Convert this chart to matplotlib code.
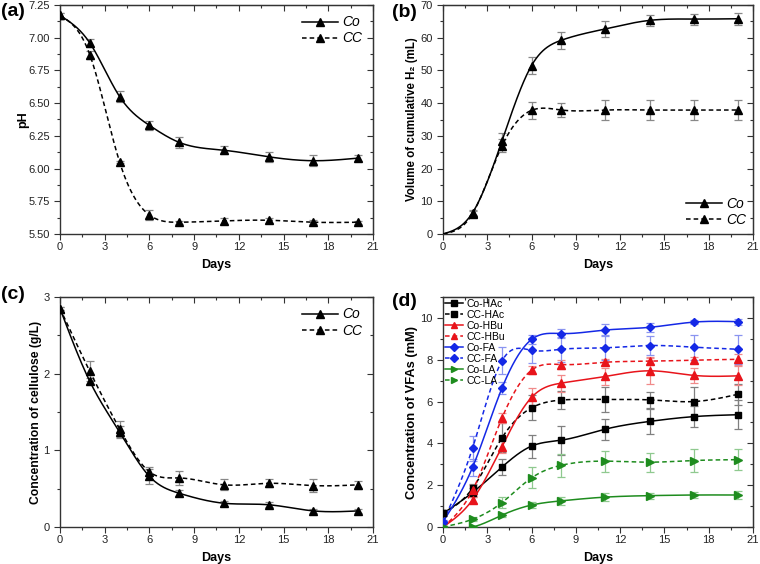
import numpy as np
import matplotlib
matplotlib.use("Agg")
import matplotlib.pyplot as plt
from matplotlib.ticker import MultipleLocator

plt.rcParams['font.family'] = ['Liberation Sans', 'DejaVu Sans']

days = [0, 2, 4, 6, 8, 11, 14, 17, 20]

# (a) pH
ph_co = [7.17, 6.96, 6.55, 6.33, 6.20, 6.14, 6.09, 6.06, 6.08]
ph_co_err = [0.02, 0.03, 0.045, 0.035, 0.04, 0.03, 0.04, 0.04, 0.02]
ph_cc = [7.17, 6.87, 6.05, 5.645, 5.59, 5.60, 5.605, 5.59, 5.59]
ph_cc_err = [0.02, 0.03, 0.01, 0.04, 0.01, 0.02, 0.02, 0.015, 0.01]

# (b) cumulative H2
h2_co = [0, 6.5, 28.5, 51.5, 59.2, 62.7, 65.3, 65.7, 65.8]
h2_co_err = [0, 0.8, 2.5, 2.5, 2.5, 2.5, 1.6, 1.7, 1.9]
h2_cc = [0, 6.2, 27.0, 37.8, 37.9, 37.9, 37.9, 37.9, 37.9]
h2_cc_err = [0, 0.8, 2.0, 2.5, 2.0, 3.0, 3.0, 3.0, 3.0]

# (c) cellulose
cel_co = [2.85, 1.90, 1.24, 0.66, 0.44, 0.31, 0.29, 0.21, 0.21]
cel_co_err = [0.02, 0.04, 0.08, 0.1, 0.04, 0.03, 0.03, 0.03, 0.03]
cel_cc = [2.85, 2.03, 1.28, 0.72, 0.64, 0.55, 0.57, 0.54, 0.55]
cel_cc_err = [0.02, 0.13, 0.1, 0.06, 0.09, 0.07, 0.05, 0.08, 0.05]

# (d) VFAs
vfa_labels = ['Co-HAc', 'CC-HAc', 'Co-HBu', 'CC-HBu', 'Co-FA', 'CC-FA', 'Co-LA', 'CC-LA']
co_hac = [0.65, 1.65, 2.87, 3.87, 4.15, 4.68, 5.05, 5.28, 5.37]
cc_hac = [0.65, 1.85, 4.27, 5.70, 6.07, 6.10, 6.08, 6.00, 6.35]
co_hbu = [0.0, 1.30, 3.85, 6.20, 6.88, 7.20, 7.47, 7.25, 7.23]
cc_hbu = [0.0, 1.75, 5.22, 7.50, 7.77, 7.88, 7.93, 7.98, 8.02]
co_fa = [0.25, 2.85, 6.65, 8.97, 9.25, 9.42, 9.55, 9.80, 9.82]
cc_fa = [0.25, 3.77, 7.95, 8.45, 8.50, 8.57, 8.68, 8.60, 8.50]
co_la = [0.0, 0.0, 0.57, 1.05, 1.25, 1.43, 1.50, 1.53, 1.53]
cc_la = [0.0, 0.37, 1.17, 2.35, 2.95, 3.15, 3.10, 3.18, 3.22]
co_hac_err = [0.1, 0.2, 0.4, 0.55, 0.7, 0.5, 0.6, 0.5, 0.7]
cc_hac_err = [0.1, 0.2, 0.7, 0.6, 0.45, 0.6, 0.4, 0.7, 0.5]
co_hbu_err = [0.0, 0.15, 0.3, 0.45, 0.4, 0.4, 0.65, 0.35, 0.45]
cc_hbu_err = [0.0, 0.25, 0.25, 0.2, 0.2, 0.15, 0.15, 0.15, 0.25]
co_fa_err = [0.1, 0.4, 0.3, 0.2, 0.2, 0.3, 0.2, 0.1, 0.15]
cc_fa_err = [0.1, 0.6, 0.65, 0.6, 0.6, 0.6, 0.45, 0.6, 0.7]
co_la_err = [0.0, 0.05, 0.1, 0.15, 0.2, 0.2, 0.15, 0.15, 0.2]
cc_la_err = [0.0, 0.1, 0.25, 0.5, 0.55, 0.5, 0.45, 0.55, 0.5]


def spline(x, y, n=400):
    x = np.asarray(x, float)
    y = np.asarray(y, float)
    k = len(x)
    h = np.diff(x)
    A = np.zeros((k, k))
    b = np.zeros(k)
    A[0, 0] = 1
    A[-1, -1] = 1
    for i in range(1, k - 1):
        A[i, i - 1] = h[i - 1]
        A[i, i] = 2 * (h[i - 1] + h[i])
        A[i, i + 1] = h[i]
        b[i] = 6 * ((y[i + 1] - y[i]) / h[i] - (y[i] - y[i - 1]) / h[i - 1])
    M = np.linalg.solve(A, b)
    xs = np.linspace(x[0], x[-1], n)
    idx = np.clip(np.searchsorted(x, xs) - 1, 0, k - 2)
    x0, x1 = x[idx], x[idx + 1]
    hh = x1 - x0
    t0 = x1 - xs
    t1 = xs - x0
    ys = (M[idx] * t0 ** 3 / (6 * hh) + M[idx + 1] * t1 ** 3 / (6 * hh)
          + (y[idx] / hh - M[idx] * hh / 6) * t0
          + (y[idx + 1] / hh - M[idx + 1] * hh / 6) * t1)
    return xs, ys


fig = plt.figure(figsize=(7.6, 5.64), dpi=100)
W, H = 760, 564


def make_ax(l, t, r, b):
    return fig.add_axes([l / W, 1 - b / H, (r - l) / W, (b - t) / H])


axa = make_ax(60, 5, 373, 234)
axb = make_ax(443, 5, 753, 234)
axc = make_ax(60, 297, 373, 527)
axd = make_ax(443, 297, 753, 527)

spine_c = '#333333'
tick_c = '#333333'


def style(ax, ylim, ymaj, ymin, yfmt, ylabel, panel, ylx, ppos, ylsize):
    ax.set_xlim(0, 21)
    ax.set_ylim(*ylim)
    ax.xaxis.set_major_locator(MultipleLocator(3))
    ax.xaxis.set_minor_locator(MultipleLocator(1.5))
    ax.yaxis.set_major_locator(MultipleLocator(ymaj))
    ax.yaxis.set_minor_locator(MultipleLocator(ymin))
    ax.yaxis.set_major_formatter(yfmt)
    for s in ax.spines.values():
        s.set_color(spine_c)
        s.set_linewidth(1.0)
    ax.tick_params(which='both', direction='out', colors=tick_c, labelsize=8,
                   labelcolor='#222222', width=0.8)
    ax.tick_params(which='major', length=4)
    ax.tick_params(which='minor', length=2.5)
    ax.tick_params(axis='x', pad=2)
    for side, loc in (('right', 'y'), ('top', 'x')):
        if loc == 'y':
            sa = ax.secondary_yaxis('right')
            sa.yaxis.set_major_locator(MultipleLocator(ymaj))
            sa.yaxis.set_minor_locator(MultipleLocator(ymin))
        else:
            sa = ax.secondary_xaxis('top')
            sa.xaxis.set_major_locator(MultipleLocator(3))
            sa.xaxis.set_minor_locator(MultipleLocator(1.5))
        sa.tick_params(which='both', direction='in', colors=tick_c, width=0.8,
                       labelright=False, labeltop=False)
        sa.tick_params(which='major', length=4)
        sa.tick_params(which='minor', length=2.5)
        sa.spines[side].set_color(spine_c)
    ax.set_xlabel('Days', fontsize=9, fontweight='bold')
    ax.xaxis.set_label_coords(0.5, -0.11)
    ax.set_ylabel(ylabel, fontsize=ylsize, fontweight='bold')
    ax.yaxis.set_label_coords(ylx, 0.5)
    fig.text(ppos[0] / W, 1 - ppos[1] / H, panel, fontsize=14,
             fontweight='bold', va='top', ha='left')


def pair(ax, yco, eco, ycc, ecc, first_marker=True):
    ax.errorbar(days, yco, yerr=eco, fmt='none', ecolor='#888888',
                elinewidth=0.9, capsize=3, capthick=0.9, zorder=2)
    ax.errorbar(days, ycc, yerr=ecc, fmt='none', ecolor='#888888',
                elinewidth=0.9, capsize=3, capthick=0.9, zorder=2)
    xs, ys = spline(days, yco)
    ax.plot(xs, ys, color='black', lw=1.1, ls='-', zorder=3)
    xs, ys = spline(days, ycc)
    ax.plot(xs, ys, color='black', lw=1.1, ls=(0, (3, 2)), zorder=3)
    s = 0 if first_marker else 1
    ax.plot(days[s:], yco[s:], ls='none', marker='^', ms=5.5, color='black', zorder=4)
    ax.plot(days[s:], ycc[s:], ls='none', marker='^', ms=5.5, color='black', zorder=4)
    h1, = ax.plot([], [], color='black', lw=1.1, ls='-', marker='^', ms=5.5)
    h2, = ax.plot([], [], color='black', lw=1.1, ls=(0, (3, 2)), marker='^', ms=5.5)
    return [h1, h2]


leg_kw = dict(frameon=False, prop={'style': 'italic', 'size': 10},
              handlelength=2.6, labelspacing=0.15, handletextpad=0.3)

# (a)
hs = pair(axa, ph_co, ph_co_err, ph_cc, ph_cc_err)
style(axa, (5.5, 7.25), 0.25, 0.125, '{x:.2f}', 'pH', '(a)', -0.10, (1, 3), 9)
axa.legend(hs, ['Co', 'CC'], loc='upper right', borderaxespad=0.35, **leg_kw)

# (b)
hs = pair(axb, h2_co, h2_co_err, h2_cc, h2_cc_err, first_marker=False)
style(axb, (0, 70), 10, 5, '{x:.0f}', 'Volume of cumulative H\u2082 (mL)', '(b)',
      -0.08, (392, 4), 8.3)
axb.legend(hs, ['Co', 'CC'], loc='lower right', borderaxespad=0.1, **leg_kw)

# (c)
hs = pair(axc, cel_co, cel_co_err, cel_cc, cel_cc_err)
style(axc, (0, 3), 1, 0.5, '{x:.0f}', 'Concentration of cellulose (g/L)', '(c)',
      -0.058, (1, 286), 8.7)
axc.legend(hs, ['Co', 'CC'], loc='upper right', borderaxespad=0.35, **leg_kw)

# (d)
series = [co_hac, cc_hac, co_hbu, cc_hbu, co_fa, cc_fa, co_la, cc_la]
errs = [co_hac_err, cc_hac_err, co_hbu_err, cc_hbu_err, co_fa_err, cc_fa_err,
        co_la_err, cc_la_err]
colors = ['black', 'black', '#e8141b', '#e8141b', '#1428e6', '#1428e6',
          '#1e8c1e', '#1e8c1e']
ecolors = ['#808080', '#808080', '#f08a8a', '#f08a8a', '#8a94f0', '#8a94f0',
           '#8fc98f', '#8fc98f']
markers = ['s', 's', '^', '^', 'D', 'D', '>', '>']
msizes = [5, 5, 5.5, 5.5, 4.5, 4.5, 5.5, 5.5]
handles = []
for i, (yv, ev) in enumerate(zip(series, errs)):
    ls = '-' if i % 2 == 0 else (0, (3, 2))
    axd.errorbar(days, yv, yerr=ev, fmt='none', ecolor=ecolors[i],
                 elinewidth=0.9, capsize=3, capthick=0.9, zorder=2)
    xs, ys = spline(days, yv)
    axd.plot(xs, ys, color=colors[i], lw=1.1, ls=ls, zorder=3)
    axd.plot(days, yv, ls='none', marker=markers[i], ms=msizes[i],
             color=colors[i], zorder=4, clip_on=True)
    h, = axd.plot([], [], color=colors[i], lw=1.1, ls=ls, marker=markers[i],
                  ms=msizes[i] - 0.5)
    handles.append(h)
style(axd, (0, 11), 2, 1, '{x:.0f}', 'Concentration of VFAs (mM)', '(d)',
      -0.08, (392, 293), 9.3)
axd.legend(handles, vfa_labels, loc='upper left', frameon=False,
           prop={'size': 7.5}, handlelength=1.8, borderaxespad=0.0,
           labelspacing=0.1, handletextpad=0.3, borderpad=0.15)

fig.savefig('out.png', dpi=100)
